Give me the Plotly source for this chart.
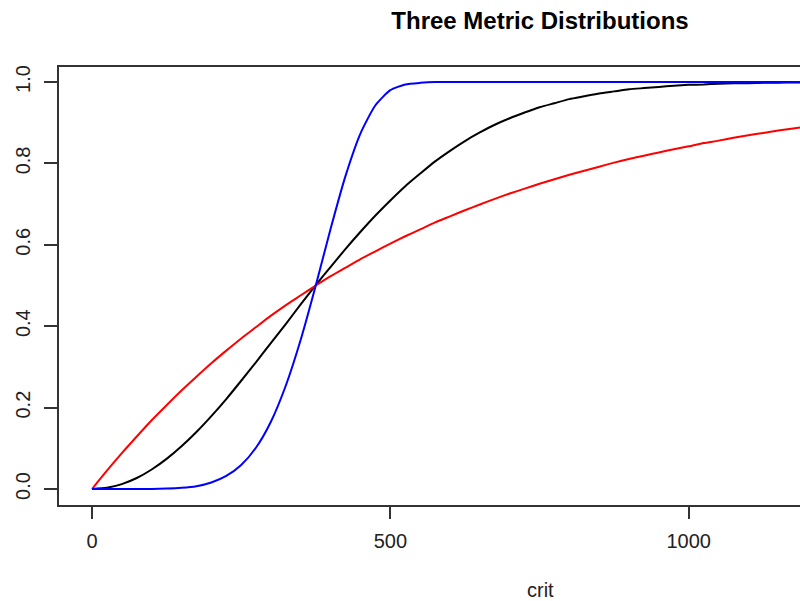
import plotly.graph_objects as go

crit = [0, 25, 50, 75, 100, 125, 150, 175, 200, 225, 250, 275, 300, 325, 350, 375,
        400, 425, 450, 475, 500, 525, 550, 575, 600, 625, 650, 675, 700, 725, 750,
        775, 800, 825, 850, 875, 900, 925, 950, 975, 1000, 1025, 1050, 1075, 1100,
        1125, 1150, 1175, 1200]

red_vals = [0.0, 0.045, 0.088, 0.129, 0.169, 0.206, 0.242, 0.276, 0.309, 0.340,
            0.370, 0.398, 0.426, 0.452, 0.476, 0.500, 0.523, 0.544, 0.565, 0.584,
            0.603, 0.621, 0.638, 0.655, 0.670, 0.685, 0.699, 0.713, 0.726, 0.738,
            0.750, 0.761, 0.772, 0.782, 0.792, 0.802, 0.811, 0.819, 0.827, 0.835,
            0.842, 0.850, 0.856, 0.863, 0.869, 0.875, 0.881, 0.886, 0.891]

black_vals = [0.0, 0.003, 0.012, 0.027, 0.048, 0.074, 0.105, 0.140, 0.179, 0.221,
              0.266, 0.312, 0.359, 0.406, 0.454, 0.501, 0.546, 0.590, 0.632, 0.672,
              0.709, 0.744, 0.775, 0.805, 0.831, 0.855, 0.876, 0.895, 0.911, 0.925,
              0.938, 0.948, 0.958, 0.965, 0.972, 0.977, 0.982, 0.985, 0.988, 0.991,
              0.993, 0.994, 0.996, 0.997, 0.997, 0.998, 0.9985, 0.999, 0.999]

blue_vals = [0.0, 0.0, 0.0, 0.0, 0.0, 0.001, 0.003, 0.007, 0.016, 0.032,
             0.059, 0.102, 0.166, 0.255, 0.368, 0.500, 0.640, 0.770, 0.874, 0.943,
             0.980, 0.994, 0.998, 1.0, 1.0, 1.0, 1.0, 1.0, 1.0, 1.0,
             1.0, 1.0, 1.0, 1.0, 1.0, 1.0, 1.0, 1.0, 1.0, 1.0,
             1.0, 1.0, 1.0, 1.0, 1.0, 1.0, 1.0, 1.0, 1.0]

x_ticks = [0, 500, 1000]
y_ticks = [0.0, 0.2, 0.4, 0.6, 0.8, 1.0]
y_tick_text = ["0.0", "0.2", "0.4", "0.6", "0.8", "1.0"]

fig = go.Figure()
for vals, col in [(black_vals, "black"), (red_vals, "red"), (blue_vals, "blue")]:
    fig.add_trace(go.Scatter(x=crit, y=vals, mode="lines",
                             line=dict(color=col, width=2, shape="spline", smoothing=0.6),
                             showlegend=False, hoverinfo="skip"))

font_family = "Liberation Sans, Arial, sans-serif"
axis_col = "#333333"

fig.update_layout(
    width=800, height=601,
    margin=dict(l=59, r=0, t=67, b=96),
    paper_bgcolor="white", plot_bgcolor="white",
    font=dict(family=font_family, size=20, color="#222222"),
    title=dict(text="<b>Three Metric Distributions</b>", x=540/800, xref="container",
               xanchor="center", y=1 - 21/601, yref="container", yanchor="middle",
               font=dict(family=font_family, size=24, color="black")),
    xaxis=dict(range=[-55.3, 1186.5], tickvals=x_ticks, ticktext=[str(v) for v in x_ticks],
               showgrid=False, zeroline=False, showline=True, linecolor=axis_col,
               linewidth=2, mirror=True, ticks="outside", ticklen=12, tickwidth=2,
               tickcolor=axis_col, ticklabelstandoff=5,
               tickfont=dict(size=20, color="#222222")),
    yaxis=dict(range=[-0.0393, 1.0369], tickvals=y_ticks, ticktext=y_tick_text,
               showgrid=False, zeroline=False, showline=True, linecolor=axis_col,
               linewidth=2, mirror=False, ticks="outside", ticklen=13, tickwidth=2,
               tickcolor=axis_col, tickangle=-90, ticklabelstandoff=6,
               tickfont=dict(size=20, color="#222222")),
)

fig.add_annotation(text="crit", x=751, xref="x", y=-85/438, yref="paper",
                   xanchor="center", yanchor="middle", showarrow=False,
                   font=dict(family=font_family, size=20, color="#222222"))

fig.write_html("out.html")
